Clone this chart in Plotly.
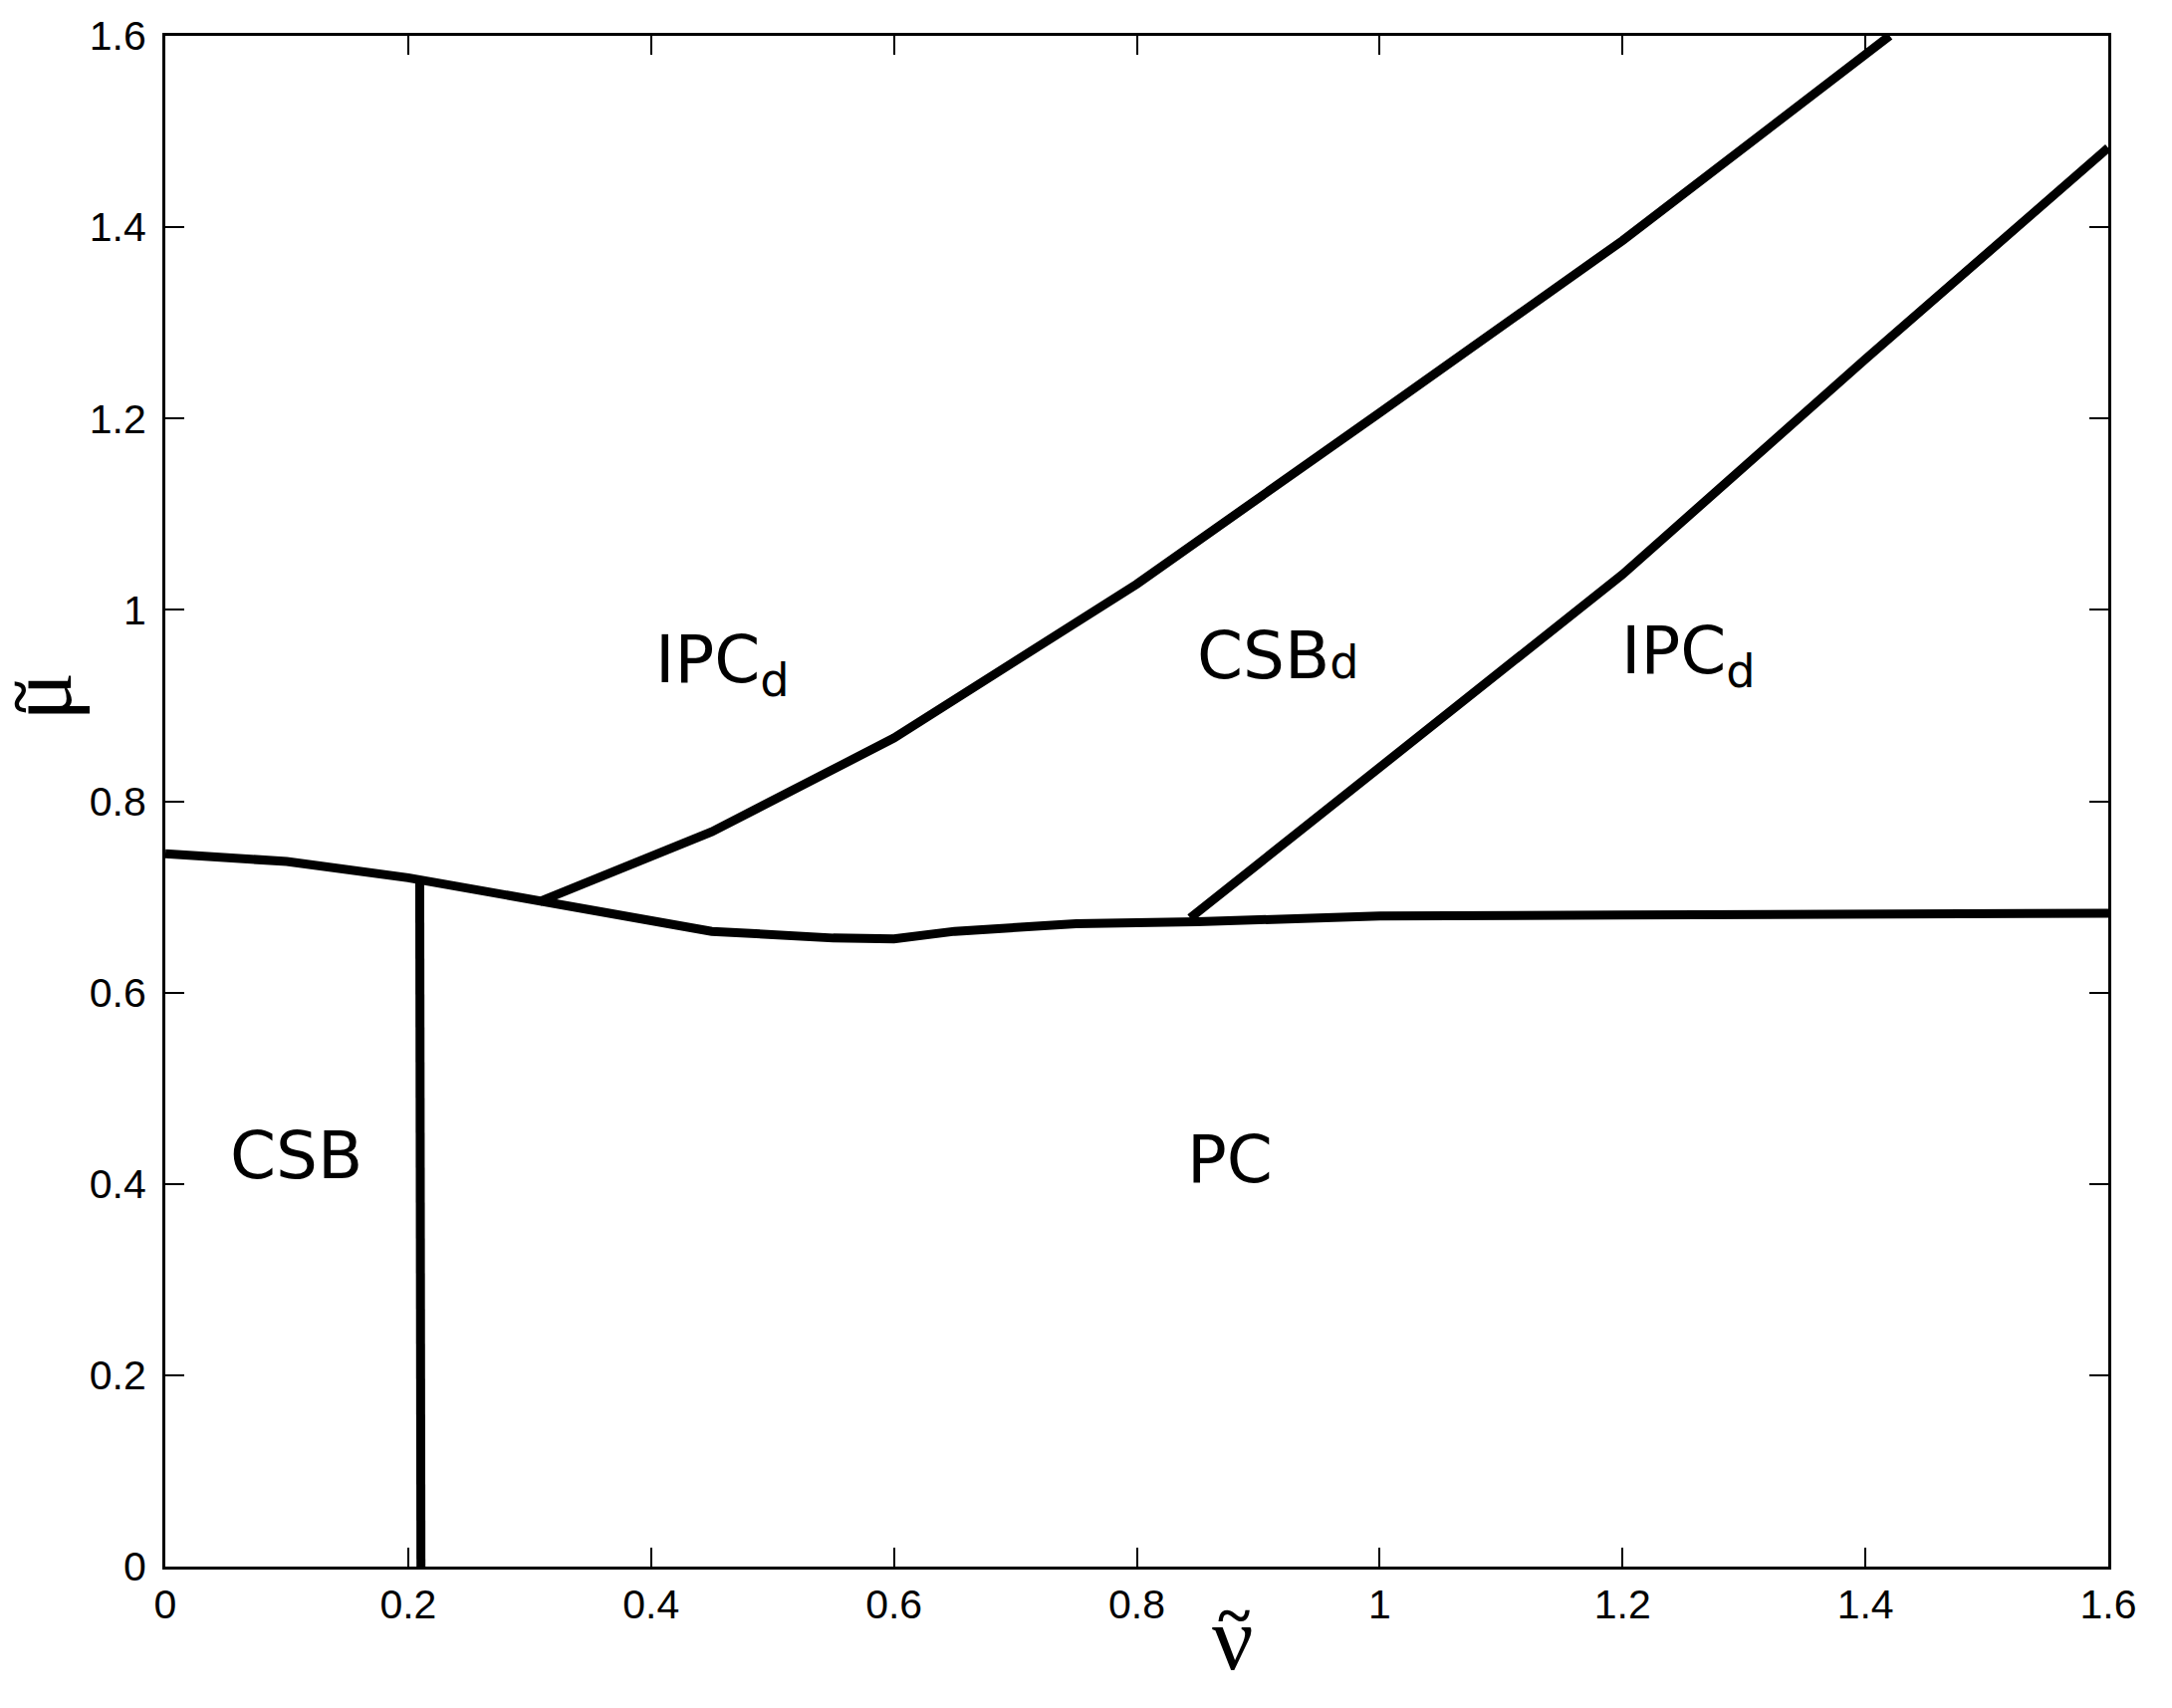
import plotly.graph_objects as go

# ---- data ----
boundary_x = [0, 0.1, 0.2, 0.3, 0.45, 0.55, 0.6, 0.65, 0.75, 0.85, 1.0, 1.2, 1.6]
boundary_y = [0.745, 0.737, 0.720, 0.697, 0.664, 0.657, 0.656, 0.664, 0.672, 0.674, 0.680, 0.681, 0.683]

upper1_x = [0.308, 0.45, 0.6, 0.8, 1.0, 1.2, 1.42]
upper1_y = [0.695, 0.768, 0.866, 1.027, 1.206, 1.386, 1.6]

upper2_x = [0.844, 1.0, 1.2, 1.4, 1.6]
upper2_y = [0.678, 0.835, 1.037, 1.262, 1.483]

vert_x = [0.2095, 0.2095, 0.2105, 0.2105]
vert_y = [0.718, 0.075, 0.075, 0.0]

tick_vals = [0, 0.2, 0.4, 0.6, 0.8, 1.0, 1.2, 1.4, 1.6]
tick_text = ["0", "0.2", "0.4", "0.6", "0.8", "1", "1.2", "1.4", "1.6"]

region_labels = ["IPC<sub>d</sub>", "CSB<span style='font-size:46px'>d</span>", "IPC<sub>d</sub>", "CSB", "PC"]
region_x = [0.4025, 0.8485, 1.1985, 0.0525, 0.8405]
region_y = [0.943, 0.952, 0.952, 0.4295, 0.425]

W, H = 2181, 1715
L, R, T, B = 166, 64, 36, 142

fig = go.Figure()
line_style = dict(color="black", width=9)
for xs, ys in [(boundary_x, boundary_y), (upper1_x, upper1_y), (upper2_x, upper2_y), (vert_x, vert_y)]:
    fig.add_trace(go.Scatter(x=xs, y=ys, mode="lines", line=line_style,
                             showlegend=False, hoverinfo="skip"))

axis_common = dict(
    range=[0, 1.6], tickvals=tick_vals, ticktext=tick_text,
    ticks="inside", ticklen=19, tickwidth=2, tickcolor="black",
    showline=True, linewidth=3, linecolor="black", mirror="allticks",
    showgrid=False, zeroline=False,
    tickfont=dict(family="Liberation Sans, Arial, sans-serif", size=41, color="black"),
    automargin=False,
)
fig.update_xaxes(**axis_common, ticklabelstandoff=0)
fig.update_yaxes(**axis_common, ticklabelstandoff=8)

annotations = []
for txt, x, y in zip(region_labels, region_x, region_y):
    annotations.append(dict(x=x, y=y, xref="x", yref="y", text=txt, showarrow=False,
                            xanchor="left", yanchor="middle", borderpad=0,
                            font=dict(family="DejaVu Sans", size=66, color="black")))

pw, ph = W - L - R, H - T - B


def px(xp):
    return (xp - L) / pw


def py(yp):
    return (H - B - yp) / ph


serif = "Liberation Serif, serif"
# x-axis title: nu with tilde above
annotations.append(dict(x=px(1238), y=py(1645), xref="paper", yref="paper",
                        text="ν", showarrow=False, xanchor="center", yanchor="middle",
                        borderpad=0,
                        font=dict(family=serif, size=92, color="black")))
annotations.append(dict(x=px(1239), y=py(1621), xref="paper", yref="paper",
                        text="<b>~</b>", showarrow=False, xanchor="center", yanchor="middle",
                        borderpad=0,
                        font=dict(family=serif, size=62, color="black")))
# y-axis title: mu with tilde above (rotated)
annotations.append(dict(x=px(40), y=py(700), xref="paper", yref="paper",
                        text="μ", showarrow=False, xanchor="center", yanchor="middle",
                        textangle=-90, borderpad=0,
                        font=dict(family=serif, size=92, color="black")))
annotations.append(dict(x=px(19), y=py(700), xref="paper", yref="paper",
                        text="<b>~</b>", showarrow=False, xanchor="center", yanchor="middle",
                        textangle=-90, borderpad=0,
                        font=dict(family=serif, size=62, color="black")))

fig.update_layout(
    width=W, height=H, autosize=False,
    margin=dict(l=L, r=R, t=T, b=B, pad=0),
    paper_bgcolor="white", plot_bgcolor="white",
    annotations=annotations,
)

fig.write_html("out.html", config={"displayModeBar": False},
               post_script="document.body.style.margin='0';document.body.style.overflow='hidden';")
